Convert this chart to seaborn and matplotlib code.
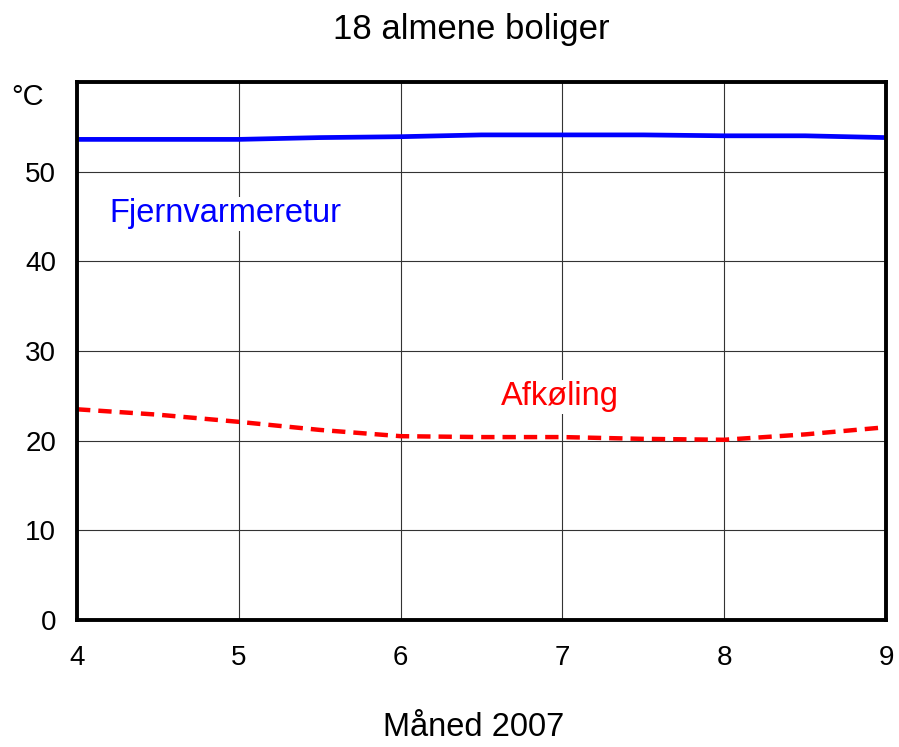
import numpy as np
import pandas as pd
import matplotlib
matplotlib.use('Agg')
import matplotlib.pyplot as plt
import seaborn as sns

# data (month of 2007, temperature in °C)
maaned = [4, 4.5, 5, 5.5, 6, 6.5, 7, 7.5, 8, 8.5, 9]
fjernvarmeretur = [53.6, 53.6, 53.6, 53.8, 53.9, 54.1, 54.1, 54.1, 54.0, 54.0, 53.8]
afkoeling = [23.5, 22.9, 22.1, 21.2, 20.5, 20.4, 20.4, 20.2, 20.1, 20.7, 21.5]

x_ticks = [4, 5, 6, 7, 8, 9]
y_ticks = [0, 10, 20, 30, 40, 50]

df = pd.DataFrame({'maaned': maaned, 'retur': fjernvarmeretur, 'afk': afkoeling})

sns.set_theme(style='white')
plt.rcParams['font.family'] = ['Liberation Sans', 'DejaVu Sans']
plt.rcParams['text.color'] = 'black'

fig = plt.figure(figsize=(8.99, 7.47), dpi=100)
ax = fig.add_axes([77 / 899, 1 - 620 / 747, (886 - 77) / 899, (620 - 82) / 747])

sns.lineplot(data=df, x='maaned', y='retur', color='#0000ff', lw=3.4, ax=ax)
sns.lineplot(data=df, x='maaned', y='afk', color='#ff0000', lw=3.2, ax=ax,
             linestyle=(0, (3.0, 1.8)))

ax.set_xlim(4, 9)
ax.set_ylim(0, 60)
ax.set_xticks(x_ticks)
ax.set_yticks(y_ticks)
ax.grid(True, color='0.2', lw=0.8)
ax.set_axisbelow(True)
for s in ax.spines.values():
    s.set_color('black')
    s.set_linewidth(2.8)
ax.tick_params(axis='both', direction='out', length=6, width=2.2, color='black',
               labelsize=20, labelcolor='black')
ax.tick_params(axis='x', pad=12)
ax.tick_params(axis='y', pad=9)
ax.set_xlabel('')
ax.set_ylabel('')

box = dict(facecolor='white', edgecolor='none', pad=1)
ax.text(4.2, 45.3, 'Fjernvarmeretur', color='#0000ff', fontsize=23.5, va='center', bbox=box)
ax.text(6.62, 24.9, 'Afkøling', color='#ff0000', fontsize=23.5, va='center', bbox=box)

fig.text(0.524, 1 - 30 / 747, '18 almene boliger', fontsize=25, ha='center', va='center')
fig.text(0.012, 1 - 97 / 747, '°C', fontsize=21, ha='left', va='center')
fig.text(0.527, 1 - 728 / 747, 'Måned 2007', fontsize=23.5, ha='center', va='center')

fig.savefig('out.png', dpi=100)
